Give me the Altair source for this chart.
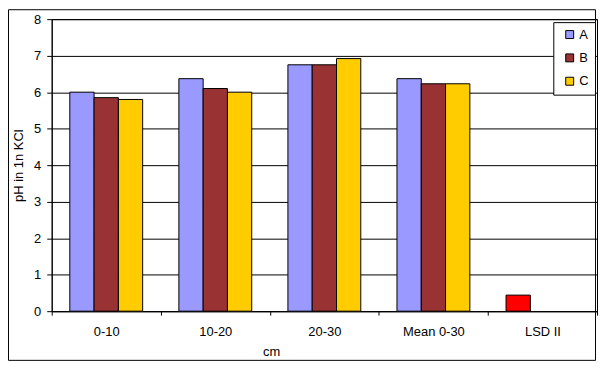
import altair as alt
import pandas as pd

categories = ["0-10", "10-20", "20-30", "Mean 0-30"]
series_names = ["A", "B", "C"]
values_A = [6.00, 6.37, 6.75, 6.37]
values_B = [5.85, 6.10, 6.75, 6.23]
values_C = [5.80, 6.00, 6.92, 6.23]
lsd_label = "LSD II"
lsd_value = 0.44
colors = ["#9999FF", "#993333", "#FFCC00", "#FF0000"]
y_ticks = [0, 1, 2, 3, 4, 5, 6, 7, 8]

rows = []
for name, vals in zip(series_names, [values_A, values_B, values_C]):
    for cat, v in zip(categories, vals):
        rows.append({"cat": cat, "slot": name, "key": name, "value": v})
rows.append({"cat": lsd_label, "slot": "A", "key": "LSD", "value": lsd_value})
df = pd.DataFrame(rows)

cat_order = categories + [lsd_label]
FONT = "Liberation Sans"
FS = 13

bars = alt.Chart(df).mark_bar(stroke="black", strokeWidth=1).encode(
    x=alt.X("cat:N", sort=cat_order,
            scale=alt.Scale(domain=cat_order, paddingInner=0, paddingOuter=0),
            axis=alt.Axis(title="cm", labelAngle=0, tickBand="extent", tickSize=4,
                          labelPadding=10, domainColor="black", tickColor="black",
                          titleX=221, titleY=41, titleBaseline="middle", titleAnchor="start",
                          titleAlign="center", grid=False)),
    xOffset=alt.XOffset("slot:N", scale=alt.Scale(domain=series_names, paddingInner=0, paddingOuter=0.745)),
    y=alt.Y("value:Q", scale=alt.Scale(domain=[0, 8], nice=False),
            axis=alt.Axis(title="pH in 1n KCl", values=y_ticks, labelOverlap=False,
                          grid=True, gridColor="black", gridOpacity=1, gridWidth=1,
                          tickSize=5, labelPadding=6, titlePadding=8,
                          domainColor="black", tickColor="black")),
    color=alt.Color("key:N", scale=alt.Scale(domain=series_names + ["LSD"], range=colors),
                    legend=alt.Legend(title=None, values=series_names, orient="none",
                                      legendX=505, legendY=3, symbolType="square",
                                      symbolSize=64, symbolStrokeColor="black",
                                      symbolStrokeWidth=1, padding=6, symbolOffset=4,
                                      labelOffset=3, rowPadding=9.5,
                                      labelExpr="datum.label + '     '",
                                      strokeColor="black", fillColor="white",
                                      labelFontSize=FS, labelFont=FONT, labelColor="black")),
)

frame = alt.Chart(pd.DataFrame({"f": [0]})).mark_rect(
    fillOpacity=0, stroke="black", strokeWidth=1
).encode(
    x=alt.value(-43.5), x2=alt.value(547.5), y=alt.value(-9.5), y2=alt.value(343.5)
)

chart = alt.layer(frame, bars).properties(
    width=549, height=294,
    background="white",
    autosize=alt.AutoSizeParams(type="none"),
    padding={"left": 44, "top": 10, "right": 1, "bottom": 60},
).configure_view(stroke="black", strokeWidth=1).configure_axis(
    labelFont=FONT, titleFont=FONT, labelFontSize=FS, titleFontSize=FS,
    labelColor="black", titleColor="black", titleFontWeight="normal"
)

chart.save("out.html", embed_options={"renderer": "svg", "actions": False})
